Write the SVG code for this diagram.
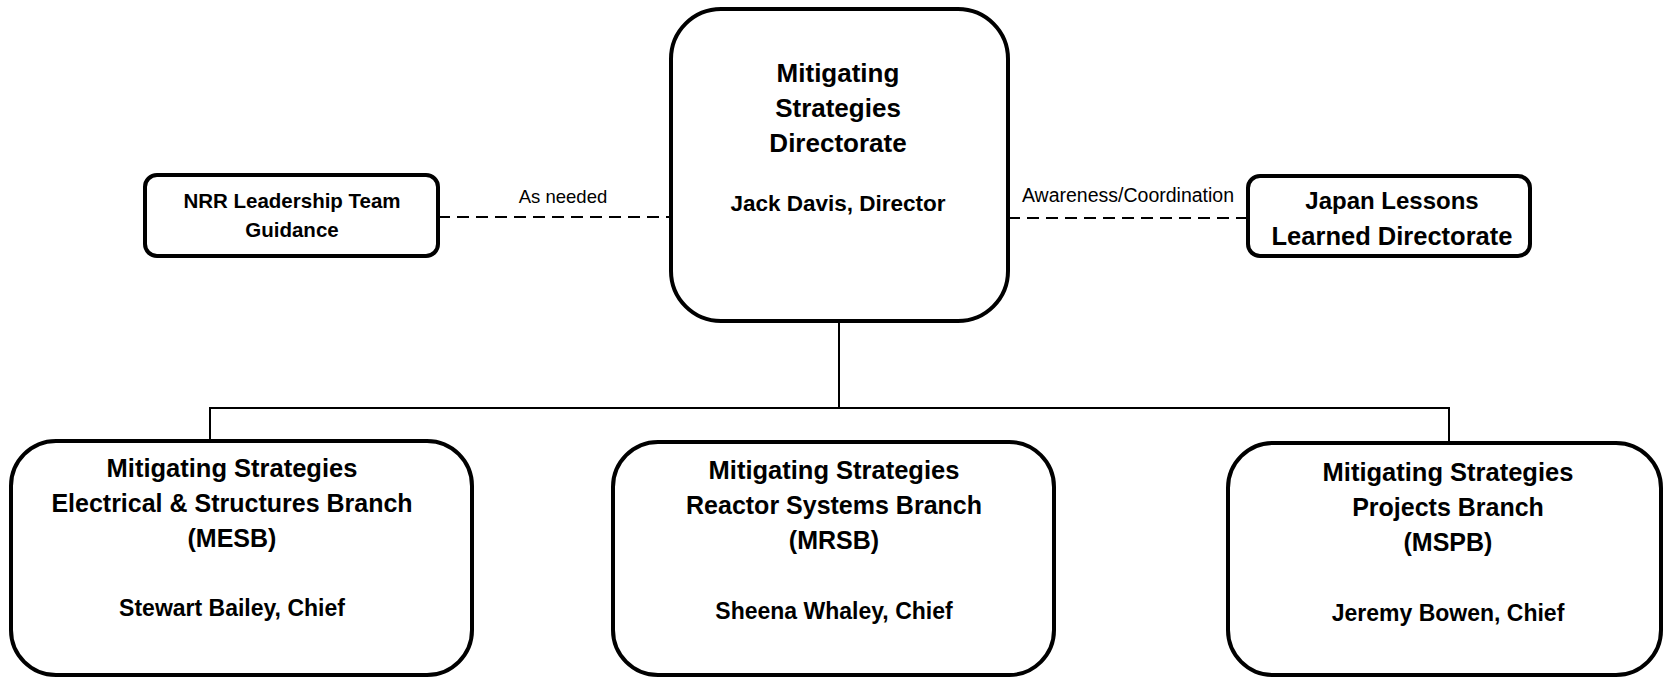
<svg xmlns="http://www.w3.org/2000/svg" width="1665" height="678" viewBox="0 0 1665 678">
<style>
.box{fill:#fff;stroke:#000;stroke-width:4}
.t{font-family:"Liberation Sans",Arial,sans-serif;font-weight:bold;fill:#000;text-anchor:middle}
.lbl{font-family:"Liberation Sans",Arial,sans-serif;fill:#000;text-anchor:middle}
.solid{stroke:#000;stroke-width:2;fill:none}
.dash{stroke:#000;stroke-width:2;fill:none;stroke-dasharray:12 7}
</style>
<rect width="1665" height="678" fill="#fff"/>
<g id="connectors">
<line class="dash" x1="438" y1="217" x2="671" y2="217"/>
<line class="dash" x1="1008" y1="218" x2="1248" y2="218"/>
<line class="solid" x1="839" y1="321" x2="839" y2="408"/>
<line class="solid" x1="209" y1="408" x2="1450" y2="408"/>
<line class="solid" x1="210" y1="407" x2="210" y2="441"/>
<line class="solid" x1="1449" y1="407" x2="1449" y2="443"/>
<text class="lbl" font-size="18.5" x="563" y="203">As needed</text>
<text class="lbl" font-size="19.5" x="1128" y="202">Awareness/Coordination</text>
</g>
<g id="directorate">
<rect class="box" x="671" y="9" width="337" height="312" rx="50"/>
<text class="t" font-size="26" x="838" y="82">Mitigating</text>
<text class="t" font-size="26" x="838" y="117">Strategies</text>
<text class="t" font-size="26" x="838" y="152">Directorate</text>
<text class="t" font-size="22.5" x="838" y="211">Jack Davis, Director</text>
</g>
<g id="nrr">
<rect class="box" x="145" y="175" width="293" height="81" rx="12"/>
<text class="t" font-size="20.5" x="292" y="208">NRR Leadership Team</text>
<text class="t" font-size="20.5" x="292" y="237">Guidance</text>
</g>
<g id="japan">
<rect class="box" x="1248" y="176" width="282" height="80" rx="12"/>
<text class="t" font-size="24" x="1392" y="209">Japan Lessons</text>
<text class="t" font-size="25.5" x="1392" y="245">Learned Directorate</text>
</g>
<g id="mesb">
<rect class="box" x="11" y="441" width="461" height="234" rx="45"/>
<text class="t" font-size="25.5" x="232" y="477">Mitigating Strategies</text>
<text class="t" font-size="25" x="232" y="512">Electrical &amp; Structures Branch</text>
<text class="t" font-size="25" x="232" y="547">(MESB)</text>
<text class="t" font-size="23" x="232" y="616">Stewart Bailey, Chief</text>
</g>
<g id="mrsb">
<rect class="box" x="613" y="442" width="441" height="233" rx="45"/>
<text class="t" font-size="25.5" x="834" y="479">Mitigating Strategies</text>
<text class="t" font-size="25" x="834" y="514">Reactor Systems Branch</text>
<text class="t" font-size="25" x="834" y="549">(MRSB)</text>
<text class="t" font-size="23" x="834" y="619">Sheena Whaley, Chief</text>
</g>
<g id="mspb">
<rect class="box" x="1228" y="443" width="433" height="232" rx="45"/>
<text class="t" font-size="25.5" x="1448" y="481">Mitigating Strategies</text>
<text class="t" font-size="25" x="1448" y="516">Projects Branch</text>
<text class="t" font-size="25" x="1448" y="551">(MSPB)</text>
<text class="t" font-size="23" x="1448" y="621">Jeremy Bowen, Chief</text>
</g>
</svg>
